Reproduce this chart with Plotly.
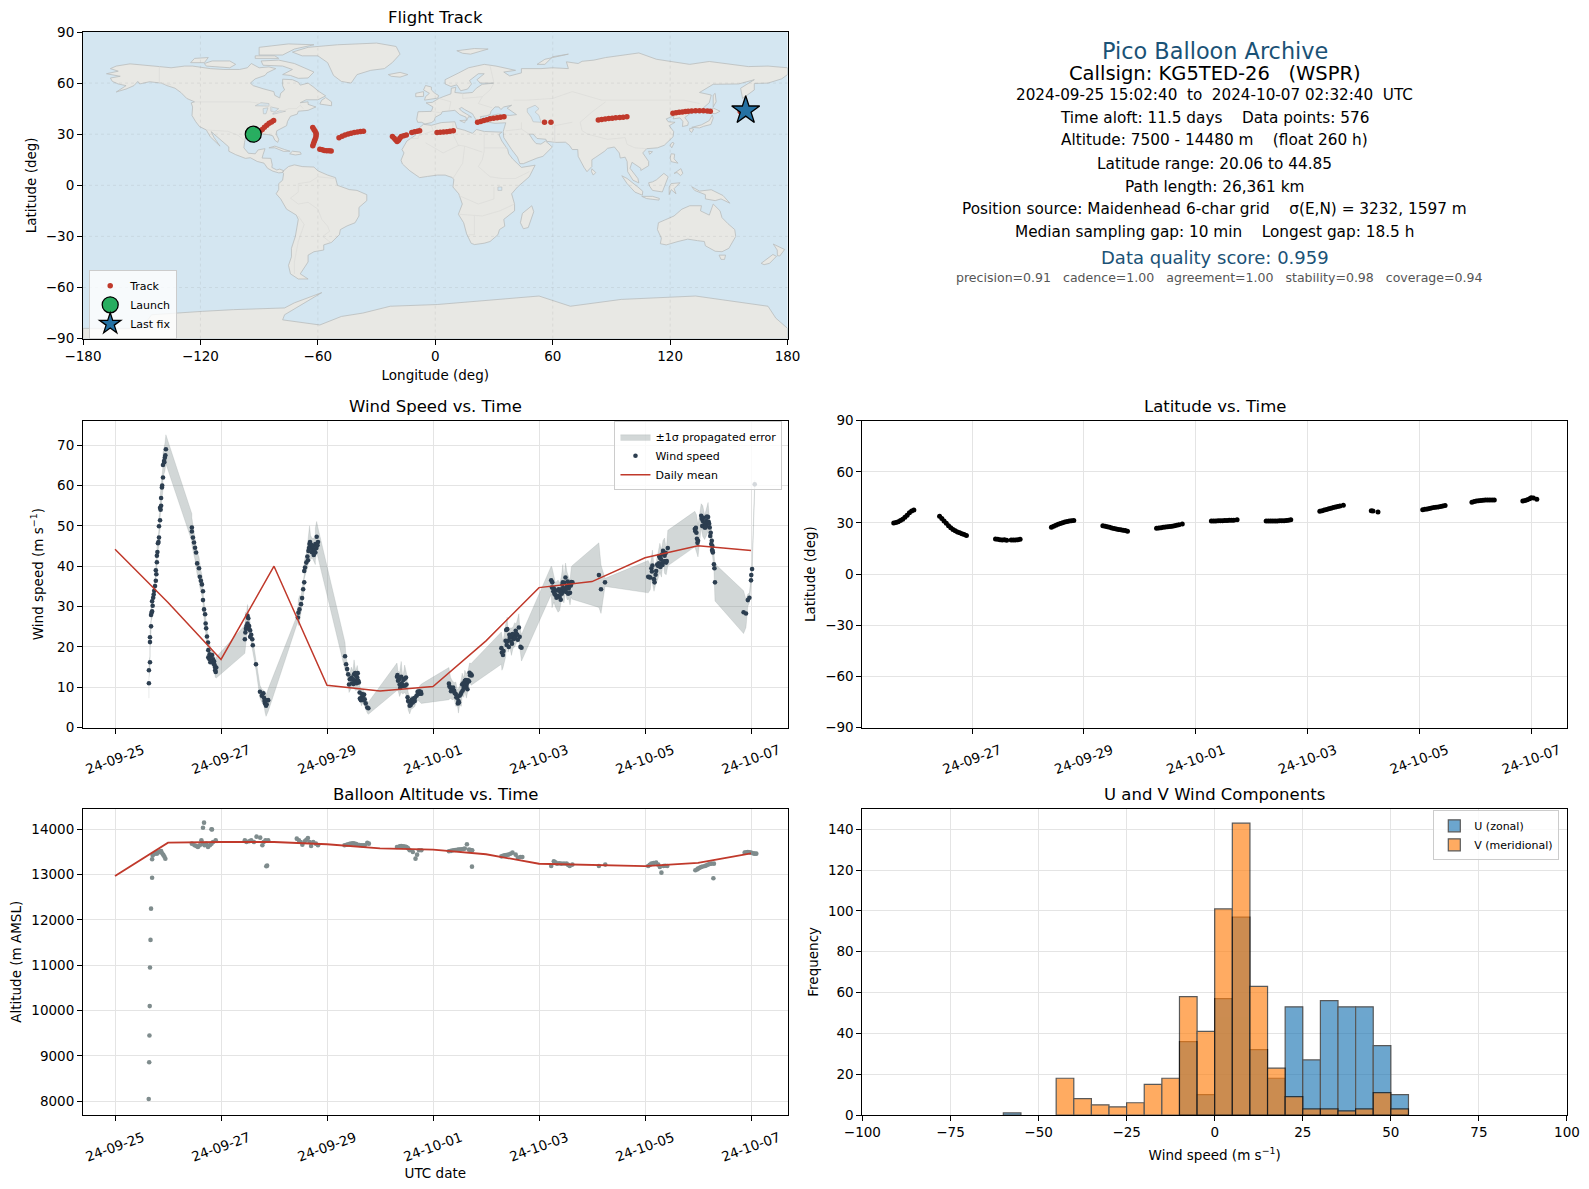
import pandas as pd
import plotly.graph_objects as go

PAGE_W = 1589
PAGE_H = 1189
FONT = 'DejaVu Sans'

# plot area edges on the page
M_L = 83.3
M_R = 22.3
M_T = 31.7
M_B = 74.3
AREA_W = PAGE_W - M_L - M_R
AREA_H = PAGE_H - M_T - M_B

t0 = pd.Timestamp('2024-09-25')

# land outlines, lon/lat pairs
north_america = [(-168,65.5),(-164,66.5),(-162,67),(-166,68.5),(-163,70),(-156,71.3),(-150,70.5),(-141,69.7),(-135,69),(-128,70),(-124,70),(-115,68.5),(-108,68),(-100,68),(-96,69),(-94,71.5),(-90,69),(-85,69.5),(-81.5,68.5),(-86,66),(-87,64.5),(-92,62.5),(-94.5,60),(-93,58.5),(-88,56.7),(-82.5,55),(-82,52.8),(-79.5,51.3),(-79,54),(-77,56),(-78,58.5),(-78,62.3),(-73,62),(-70,60.5),(-69,58.8),(-65,60),(-62,57.5),(-60,55.5),(-56,52.5),(-60,50.2),(-66,50.2),(-69,48.5),(-65,49),(-65,47.5),(-61,46),(-65,44),(-70,43.5),(-70.5,41.8),(-74,40.5),(-75.5,37.5),(-76,35),(-78,33.9),(-81,32),(-81.3,30),(-80,27),(-80.5,25.2),(-82,26.5),(-83,29),(-85,29.7),(-89,30.2),(-90,29.2),(-94,29.6),(-97,28),(-97.5,25),(-97.8,22),(-95.5,18.8),(-92,18.5),(-90.5,20.8),(-87,21.5),(-88,18),(-88.5,16),(-84,15.8),(-83.3,12),(-83.5,10.5),(-81,9),(-79.5,9.5),(-77.5,8.6),(-78,7.5),(-80,7.3),(-83,8.3),(-85.7,10),(-87.5,13),(-91,14),(-94.5,16.2),(-97,15.8),(-102,18),(-105.5,20),(-105.5,22.5),(-109,25.7),(-112,29),(-114.5,31.5),(-113,28),(-110,23),(-112,25),(-115,28.5),(-117,32.5),(-120.5,34.5),(-122.5,37.5),(-124.3,41),(-124,46),(-124.7,48.4),(-123,49),(-127,51),(-130,54.5),(-133,57),(-137,58.5),(-140,60),(-146,60.8),(-151,59.5),(-152,61),(-154,58.5),(-158,56.5),(-163,54.8),(-158,58.5),(-162,59.5),(-165,61),(-166,63),(-161,64),(-168,65.5)]
south_america = [(-77.5,8.6),(-75,11),(-72,12),(-68,11),(-62,10.7),(-60,8.5),(-55,6),(-51,4.5),(-50,0),(-44,-2.5),(-40,-3),(-35,-5.5),(-35,-9),(-39,-13),(-39,-18),(-41,-22),(-45,-23.8),(-48.5,-26),(-49,-29),(-53,-33.5),(-57,-35),(-57,-38),(-62,-39),(-65,-41),(-65,-45),(-68,-50),(-69,-52),(-65,-55),(-70,-55),(-74,-52),(-75,-47),(-73.5,-42),(-73.5,-37),(-71.5,-30),(-70,-20),(-71,-17.5),(-76,-14),(-79,-8),(-81.3,-5),(-80,-2.5),(-80,1),(-78,3),(-77.5,7),(-78,7.5),(-77.5,8.6)]
africa = [(-6,35.8),(-2,35.2),(3,36.8),(10,37.3),(11,33.5),(15,32.3),(19,30.5),(21,32.8),(25,31.6),(31,31.5),(34,31.2),(32.5,29.8),(34,26),(37,21),(37.5,18.5),(39.5,15.5),(43,12),(44,10.5),(51,11.8),(48,5),(42,-1),(39,-5),(40.5,-11),(40.5,-15),(35,-20),(35.5,-24),(32.8,-26),(32,-29),(28,-33),(25,-34),(20,-34.8),(18.3,-34),(16,-28.5),(14.5,-22),(11.8,-17),(13.8,-11),(12,-5),(9,-1),(9.5,3.5),(8.5,4.6),(5,6),(1,6),(-4,5.2),(-8,4.5),(-13,8.5),(-16.8,12.5),(-17.5,14.7),(-16,19),(-17,21),(-14.5,26),(-10,29.5),(-9.5,32.5),(-6,35.8)]
eurasia = [(-9,37),(-9.5,38.8),(-8.8,43.2),(-2,43.4),(-1.2,46),(-4.7,48.4),(-1.5,48.7),(1.5,50.8),(4,52),(8,53.7),(8.2,57),(10.5,57.5),(10,54.5),(14,54),(19,54.5),(21,57),(24,59.3),(30,60),(23,60),(21.3,62),(25,65.5),(22,65.5),(17.5,61.5),(18.5,59.5),(16.5,56.5),(13,55.5),(11,59),(8,58),(5,59.5),(5,62),(12,66),(17,69),(25,71),(31,70),(41,67.5),(35,66.5),(38,64.2),(44,66),(44,68.5),(54,68.5),(60,69),(68,68.5),(67,72.5),(73,71.5),(75,72.8),(81,73.5),(87,75),(104,77.7),(113,74),(130,71),(140,72.7),(160,69.7),(170,70),(180,69),(180,65),(177,62.5),(170,60),(163,59.8),(163,56),(157,51),(156,57),(163,62),(155,59.5),(142,59.3),(135,54.5),(141,53),(140,48.5),(135,43.5),(130.5,42.5),(127.5,39.8),(129.3,37),(129,35.2),(126.3,34.5),(126.5,37.5),(125,39.6),(121.5,39),(122,40.8),(118,39),(119,37.3),(122.5,37),(119.5,35),(121.8,31.5),(121.5,28.5),(117,23.5),(113.5,22),(109,21.5),(108,21.5),(106,19),(109,14),(109,11.5),(105,8.7),(105,10),(100.5,13.5),(99.5,10),(103.5,4),(104,1.4),(101,3),(98.3,8),(98,14),(97,16.5),(94.5,16),(94,19),(91.5,22.5),(88,21.7),(86.5,20),(82,16.5),(80,15),(80,11),(77.5,8),(76,10.5),(73,17),(72.8,21),(70,21),(68.5,23.5),(66.5,25.3),(61.5,25.2),(57,25.8),(56.5,27),(52,27.5),(50,30),(48,30),(50,26.5),(51.5,24.5),(54,24.2),(56.3,26),(59.8,22.5),(55,17),(52,16),(45,12.7),(43.2,12.7),(42,16.5),(39,21),(35,28),(34.7,31.5),(35.8,35),(36,36.7),(30.5,36.4),(27.3,37),(26.3,39.5),(29,41),(32,41.8),(38,41),(41.5,41.5),(38,44.5),(36.7,45.3),(39,47),(35,46),(33.5,44.5),(32.5,46),(30.5,46),(28.5,43.5),(28,41.5),(26,40.8),(23,40.3),(24,38),(23,36.5),(21.5,37),(19.5,41),(19,42),(15,44.5),(13.5,45.7),(12.3,45),(13.5,43.5),(16,41.8),(18.5,40),(17,40.3),(16,38),(15.7,40),(12.5,41.5),(10,44),(7,43.7),(3.5,43.2),(3,41.8),(0,40),(-0.5,38),(-2,36.8),(-5.3,36),(-7,37),(-9,37)]
australia = [(114,-22),(122,-18),(126,-14),(130,-12),(136,-12),(135.5,-15),(140,-17.5),(142,-11),(145.5,-15),(146.5,-19),(149.5,-22.5),(153,-26),(153.5,-30),(150,-37),(146.5,-39),(143,-38.7),(138,-35.5),(137.5,-33),(134,-32.5),(129,-31.6),(124,-33),(118,-35),(115,-34.3),(115.5,-31),(113.5,-26),(114,-22)]
antarctica = [(-180,-90),(-180,-84),(-150,-84),(-145,-76),(-119,-74),(-103,-73),(-77,-72),(-72,-69),(-58,-63),(-67,-69),(-77,-76),(-78,-79),(-59,-82),(-48,-77),(-37,-75),(-23,-71),(1,-70),(53,-65),(69,-71),(95,-67),(133,-65),(170,-71),(174,-78),(180,-84),(180,-90),(-180,-90)]
islands = [
    [(-73,78.2),(-65,81),(-50,82.5),(-30,83.5),(-20,81.5),(-18,77),(-22,72),(-26,68.5),(-33,67.5),(-40,65),(-43,60),(-48,61),(-52,64.5),(-54,69),(-55,72),(-60,76),(-68,76),(-73,78.2)],
    [(-80,73.5),(-72,71.5),(-67,69),(-62,66.5),(-65,63),(-70,62.8),(-74,64.5),(-78,65),(-73,68),(-78,70),(-88,70.5),(-89,73),(-80,73.5)],
    [(-117,70),(-105,69),(-102,71),(-105,73),(-114,73),(-118,71.5),(-117,70)],
    [(-125,72),(-118,72),(-116,75),(-123,74.5),(-125,72)],
    [(-90,76.5),(-78,76.5),(-72,80),(-62,82.5),(-75,83),(-90,81),(-90,76.5)],
    [(-92,74.5),(-80,74.5),(-82,76),(-92,76),(-92,74.5)],
    [(-59,47.7),(-53,46.7),(-53,49),(-56,51.5),(-58,50),(-59,47.7)],
    [(-85,22),(-82,23),(-77,21),(-74.2,20),(-77.5,19.9),(-82,22),(-85,22)],
    [(-74.4,18.5),(-73,20),(-69,19.5),(-68.5,18.3),(-71.5,17.8),(-74.4,18.5)],
    [(-5.5,50),(1.3,51.2),(1.7,52.7),(-0.2,54),(-2,56),(-2,57.7),(-5,58.6),(-6,56),(-3,54),(-5,52),(-5.5,50)],
    [(-10,52),(-6,52.2),(-6,55),(-10,54),(-10,52)],
    [(-24,65),(-18,66.3),(-14,65),(-18,63.5),(-22.5,64),(-24,65)],
    [(11,79),(20,80.3),(27,80),(18,77),(14,77.5),(11,79)],
    [(52,71),(56,74),(68,77),(60,75.5),(56,71),(52,71)],
    [(12.5,38),(15.5,38.2),(15,36.7),(12.5,38)],
    [(49.3,-12),(50.3,-15.5),(47.5,-24.8),(45,-25.5),(43.5,-22),(44.5,-16.5),(49.3,-12)],
    [(80,9.7),(82,7.5),(80.7,6),(79.8,8),(80,9.7)],
    [(131,34),(136,35.5),(140,38),(141.5,41.3),(142,39.5),(140.8,35.7),(137,34.6),(135,33.7),(131,34)],
    [(130,33.5),(132,33),(131,31),(130,32),(130,33.5)],
    [(140,42.5),(141.8,45.5),(145.5,43.5),(143,42),(140,42.5)],
    [(142,46),(143.5,49),(143,54),(142,53),(142,48),(142,46)],
    [(121,25.2),(122,24.8),(120.8,22),(120,23.5),(121,25.2)],
    [(109,20),(111,19.7),(109.5,18.2),(109,20)],
    [(120.5,18.5),(122.3,18.3),(122,15.5),(124,13),(120.5,13.9),(120,16),(120.5,18.5)],
    [(122,7),(125.5,9.8),(126.5,7),(125.3,5.7),(123.5,7.5),(122,7)],
    [(109,1.5),(111,2),(113,3.2),(116.8,7),(119,5),(117.8,1),(116,-3.9),(111,-3),(109.5,-0.5),(109,1.5)],
    [(95.3,5.6),(98,4),(103.5,-1),(106,-3.5),(105.8,-5.8),(102,-4),(98,1),(95.3,5.6)],
    [(105.5,-6.5),(111,-6.5),(114.5,-7.7),(114.3,-8.7),(108,-7.8),(105.5,-6.5)],
    [(119.5,-5.5),(120.5,-2.5),(123,-5),(122,-2),(125,1.5),(120.5,1),(119.5,-1),(119.5,-5.5)],
    [(131,-0.8),(135,-3.4),(141,-2.6),(147,-6),(150.5,-10.5),(146,-8),(143,-9),(138,-8),(138,-5.5),(132.5,-3),(131,-0.8)],
    [(145,-41),(148.3,-41),(147.8,-43.5),(146,-43.5),(145,-41)],
    [(172.7,-34.5),(178.5,-37.7),(176,-41.5),(174.8,-41.3),(174.7,-38),(172.7,-34.5)],
    [(172.5,-40.6),(174.3,-41.7),(170.8,-45.8),(168,-46.6),(166.5,-45.8),(170.5,-42.5),(172.5,-40.6)],
]
inland_water = [
    [(47,45),(51,47),(53,45),(51,43),(53,41),(54,37),(50,37.3),(49,40),(47,43),(47,45)],
    [(-92,46.7),(-85,46.5),(-85,48),(-89,48.5),(-92,46.7)],
    [(-87.8,42),(-86.5,42),(-85.5,45.5),(-88,45),(-87.8,42)],
    [(-84,43.5),(-82,43.2),(-80,45),(-84,46),(-84,43.5)],
    [(-83,41.7),(-79,42.8),(-76.5,43.5),(-79.5,43.7),(-83,42.2),(-83,41.7)],
    [(32,-1),(34,-1),(34,-3),(32,-3),(32,-1)],
]
borders = [
    [(-123,49),(-95,49),(-89,48),(-84,46.5),(-82.5,42.5),(-79,43),(-75,45),(-71,45),(-69,47),(-67.5,45)],
    [(-141,69.7),(-141,60),(-135,59)],
    [(-117,32.5),(-108,31.5),(-106,31.7),(-101,29.5),(-97.2,26)],
    [(-51.5,4),(-60,5),(-64,2),(-70,1),(-70,-4),(-74,-7.5),(-70,-11),(-65,-10),(-60,-14),(-58,-20),(-55,-24),(-54,-27),(-57.5,-30),(-53.5,-33.5)],
    [(-70,-18),(-67,-23),(-70,-33),(-72,-45),(-72,-52)],
    [(-13,27.5),(-8.7,27.5),(-8.7,29),(-1,32),(-2,35)],
    [(9,37),(9,30),(12,23)],
    [(25,31.5),(25,20),(24,15)],
    [(25,22),(37,22)],
    [(-5,25),(4,19),(12,23.5),(15,23),(24,19.5)],
    [(15,23),(14,13),(9,4)],
    [(24,15),(22,11),(28,5),(34,4),(41,4),(48,8)],
    [(30,-1),(30,-8),(22,-11),(12,-6)],
    [(12,-17),(24,-18),(33,-15),(40.5,-11)],
    [(20,-18),(20,-29),(17,-29)],
    [(28,70),(30,60),(28,56),(24,52),(14,51),(14,54)],
    [(2,51),(8,49),(7,44)],
    [(-2,43.4),(3,42.5)],
    [(24,52),(22,48),(29,45.5)],
    [(40,50),(47,50),(60,51),(70,55),(85,50),(98,50),(107,50),(117,50),(127,50),(135,48)],
    [(87,49),(80,43),(74,37),(75,32),(78,30),(88,27),(97,28),(98,24),(102,22),(108,21.5)],
    [(61,36),(61,25)],
    [(44,37),(44,33),(48,30)],
    [(44,33),(36,32)],
    [(70,37),(61,35)],
]

# flight track
track_lon = [-89.6,-88.4,-87.3,-86.1,-84.9,-83.7,-82.6,
             -62.6,-62.0,-61.4,-60.9,-60.9,-61.0,-61.4,-61.8,-62.2,-62.6,
             -59.0,-57.8,-56.7,-55.5,-54.3,-53.2,
             -49.2,-47.6,-46.1,-44.5,-43.0,-41.4,-39.8,-38.2,-36.7,
             -21.9,-21.0,-20.2,-19.5,-18.8,-18.1,-17.4,-16.1,-14.8,
             -12.0,-10.6,-9.2,-8.0,
             0.9,2.5,4.2,5.9,7.5,9.2,
             21.6,23.2,24.8,26.4,28.0,29.8,31.6,33.3,35.1,
             55.8,59.1,
             83.3,85.0,86.8,88.6,90.4,92.2,94.2,96.0,97.9,
             121.4,123.0,124.6,126.2,127.8,129.2,131.0,133.0,135.0,137.0,139.0,140.5,
             155.8]
track_lat = [31.6,32.8,34.1,35.3,36.4,37.2,38.0,
             33.9,32.8,31.8,30.6,29.6,28.4,27.1,25.8,24.5,23.2,
             21.2,20.8,20.4,20.3,20.3,20.2,
             27.9,28.8,29.6,30.1,30.6,31.0,31.3,31.6,31.8,
             28.6,27.6,26.6,25.7,26.5,27.6,28.6,29.1,29.6,
             31.0,31.4,31.8,32.0,
             31.0,31.1,31.3,31.5,31.7,32.0,
             37.0,37.5,38.0,38.5,39.0,39.3,39.6,39.9,40.2,
             37.0,37.0,
             38.4,38.7,38.9,39.2,39.4,39.6,39.8,40.0,40.2,
             42.3,42.6,42.9,43.1,43.3,43.5,43.6,43.7,43.8,43.8,43.6,43.5,
             43.3]
launch_lon = [-93.0]
launch_lat = [30.0]
last_lon = [158.6]
last_lat = [43.9]

# wind speed, days after 2024-09-25 00:00
wind_day = [0.64,0.64,0.66,0.66,0.66,0.68,0.68,0.70,0.70,0.72,0.74,0.755,0.77,0.77,0.79,0.79,0.81,0.83,0.83,0.85,0.85,0.87,0.885,0.905,0.905,0.925,0.94,0.96,
            1.45,1.45,1.47,1.49,1.51,1.53,1.55,1.585,1.60,1.62,1.64,1.66,1.66,1.68,1.70,1.71,1.72,1.735,1.755,1.76,1.76,1.785,1.82,1.85,1.87,1.89,1.89,1.91,
            2.45,2.46,2.48,2.50,2.515,2.53,2.55,2.57,2.59,2.60,2.66,2.735,2.77,2.81,2.83,2.85,2.89,
            3.45,3.46,3.48,3.51,3.53,3.55,3.57,3.57,3.585,3.61,3.63,3.65,3.67,3.69,3.72,3.76,3.78,3.78,3.805,3.83,
            4.34,4.36,4.38,4.40,4.415,4.46,4.49,4.51,4.54,4.57,4.60,4.615,4.65,4.68,4.71,4.73,4.76,4.78,
            5.32,5.34,5.37,5.40,5.43,5.465,5.50,5.53,5.56,5.59,5.62,5.655,5.69,5.72,5.75,5.78,
            6.30,6.33,6.36,6.40,6.43,6.46,6.48,6.50,6.535,6.55,6.58,6.60,6.63,6.66,6.69,6.72,
            7.29,7.30,7.32,7.37,7.40,7.415,7.45,7.48,7.51,7.54,7.57,7.62,7.635,7.67,
            8.23,8.245,8.28,8.31,8.36,8.39,8.42,8.45,8.47,8.50,8.53,8.56,8.585,8.61,8.63,
            9.13,9.17,9.245,
            10.06,10.10,10.12,10.14,10.17,10.20,10.245,10.28,10.31,10.34,10.37,10.40,10.43,
            10.94,10.97,11.0,11.06,11.09,11.125,11.16,11.19,11.22,11.24,11.26,11.27,11.28,11.30,11.31,11.32,
            11.86,11.905,11.94,11.97,12.0,12.005,12.02,12.07]
wind_ms = [11.0,14.2,16.2,21.2,22.4,25.1,27.9,28.8,31.3,32.2,33.9,35.1,36.4,39.0,41.0,42.6,45.7,47.1,49.9,51.4,54.5,56.9,59.5,62.0,65.1,66.1,66.9,69.0,
           49.6,48.6,47.1,45.9,44.6,43.4,40.7,39.5,37.4,36.4,35.5,33.8,31.6,29.3,28.1,25.8,24.6,22.6,21.1,19.2,17.4,18.2,17.8,16.9,16.4,14.9,14.2,14.9,
           21.9,23.6,25.2,27.7,27.1,25.2,24.1,23.0,21.9,20.4,15.7,8.9,7.9,7.4,6.0,5.4,6.8,
           27.3,28.5,29.3,30.6,32.1,34.3,36.0,38.8,39.7,40.9,42.4,43.8,45.5,44.6,44.5,44.0,43.4,45.5,47.3,46.0,
           17.7,15.7,14.5,13.2,10.7,12.4,12.0,13.2,11.6,12.4,11.2,8.7,7.4,7.9,7.0,6.0,5.0,4.8,
           12.6,11.6,10.7,12.6,10.3,12.1,10.7,6.6,5.4,6.2,6.2,6.6,7.9,8.3,8.4,8.4,
           10.9,9.9,9.3,9.1,8.3,7.4,6.6,7.9,8.7,10.7,9.9,11.6,10.3,11.7,13.6,13.2,
           19.7,18.6,18.0,21.5,24.4,21.5,22.3,21.3,22.3,23.0,23.3,24.8,22.5,19.8,
           36.5,34.7,34.5,32.9,32.6,32.4,34.3,36.0,33.9,37.2,35.1,34.5,33.4,36.1,36.0,
           37.8,34.3,36.0,
           37.4,37.2,39.5,40.2,36.8,37.9,40.1,42.1,40.7,43.8,42.6,40.9,44.5,
           49.2,48.3,46.3,52.5,51.2,49.6,51.2,52.2,49.6,48.3,46.3,45.0,43.4,40.5,39.5,36.0,
           28.6,28.3,31.6,32.2,36.5,37.8,39.3,60.3]
wind_sigma = [3.7,2.0,1.5,1.5,1.5,1.5,1.5,1.6,1.6,1.7,1.8,1.8,1.9,1.9,2.0,2.0,2.2,2.2,2.4,2.4,2.6,2.8,2.8,3.0,3.0,3.2,3.4,3.6,
              3.4,3.4,3.2,3.2,3.0,3.0,2.8,2.8,2.6,2.6,2.4,2.4,2.2,2.2,2.0,2.0,1.9,1.8,1.8,1.8,1.6,2.4,1.6,2.2,1.6,2.4,1.8,2.6,
              3.5,5.0,3.0,2.8,1.8,2.4,1.6,1.5,1.5,1.5,1.4,1.6,1.6,1.8,2.2,2.6,2.8,
              1.0,3.2,3.4,2.0,2.2,2.0,2.0,2.0,2.4,2.0,3.0,2.6,4.5,3.0,2.4,3.0,3.0,4.0,3.8,3.5,
              3.4,1.8,1.6,1.6,2.0,2.6,2.0,3.6,2.4,3.0,1.8,1.6,2.0,1.6,1.6,1.4,1.4,1.5,
              3.4,2.4,3.0,3.8,2.0,3.4,2.8,2.2,2.0,1.6,1.4,1.4,1.5,1.6,2.0,2.4,
              4.0,2.6,2.4,2.0,3.0,2.0,3.0,2.4,3.4,2.8,2.4,2.6,3.0,2.4,2.4,2.7,
              4.0,4.4,3.2,4.0,3.0,2.8,2.4,3.4,2.6,3.0,2.4,3.4,2.6,3.3,
              3.5,5.0,3.4,3.0,4.0,3.4,3.0,4.4,3.0,3.6,3.4,2.6,3.0,3.8,4.2,
              8.0,6.0,1.0,
              4.0,3.0,2.6,3.8,3.0,2.4,3.2,3.6,3.4,2.6,4.4,3.0,4.4,
              4.4,4.5,4.0,3.0,3.8,3.0,3.6,3.6,2.0,2.2,2.0,1.8,1.6,1.6,2.4,4.6,
              5.3,3.5,1.5,1.2,1.2,1.2,1.2,1.0]

# more fixes inside the dense clusters, points only
cluster_day = [0.69,0.71,0.73,0.78,0.80,0.82,0.86,0.87,0.89,0.93,0.95,
               1.78,1.80,1.83,1.86,1.88,1.90,
               2.47,2.50,2.52,2.55,2.80,2.82,2.84,2.86,
               3.64,3.66,3.68,3.70,3.71,3.74,3.75,3.80,3.82,
               4.43,4.47,4.50,4.52,4.53,4.55,4.56,4.58,4.59,4.62,4.64,4.66,4.69,4.70,
               5.33,5.36,5.38,5.41,5.44,5.47,5.49,5.52,5.55,5.58,5.60,5.63,5.66,5.71,5.74,5.77,
               6.31,6.34,6.38,6.41,6.44,6.47,6.49,6.52,6.56,6.57,6.59,6.61,6.62,6.64,6.65,6.68,6.70,6.73,
               7.33,7.38,7.39,7.43,7.44,7.47,7.49,7.50,7.53,7.55,7.56,7.59,7.60,7.65,
               8.25,8.27,8.29,8.33,8.34,8.37,8.40,8.41,8.43,8.44,8.46,8.48,8.49,8.51,8.52,8.54,8.55,8.57,8.60,
               10.08,10.13,10.18,10.21,10.23,10.26,10.27,10.29,10.30,10.32,10.33,10.35,10.36,10.38,10.39,10.41,
               10.95,10.96,10.98,10.99,11.07,11.08,11.10,11.11,11.13,11.14,11.15,11.17,11.18,11.20,11.21,11.23,11.25,11.265,11.275]
cluster_ms = [28.5,30.2,33.0,38.0,43.5,46.0,54.0,55.0,60.0,65.8,67.5,
              17.0,16.2,18.0,15.8,15.5,13.8,
              24.5,25.8,24.5,22.5,8.5,6.6,6.8,5.8,
              41.5,44.5,46.0,45.3,43.5,45.0,42.8,44.5,45.2,
              12.0,11.0,10.8,11.3,13.5,12.8,11.0,13.5,11.6,7.2,6.8,8.3,6.8,8.2,
              13.0,12.0,9.8,11.0,11.8,10.4,12.4,7.5,6.4,5.6,6.9,7.2,7.4,8.9,9.0,8.9,
              10.2,9.0,9.9,8.5,7.5,6.0,6.2,8.2,9.2,11.0,11.0,10.0,11.8,11.0,9.5,11.5,13.0,12.9,
              19.0,24.2,20.5,20.0,23.0,22.5,20.8,23.2,22.0,22.3,24.0,23.0,21.8,20.0,
              36.0,33.8,33.2,32.2,34.0,34.3,33.6,31.7,33.2,35.4,34.6,35.9,34.0,33.6,34.6,36.2,33.2,35.7,35.2,
              37.3,38.7,36.0,38.8,40.4,40.7,42.5,39.8,41.8,42.9,40.3,41.0,41.2,41.2,43.3,41.3,
              48.7,49.5,46.8,45.8,51.8,50.0,50.0,52.0,50.5,49.6,50.0,52.3,50.7,51.0,50.5,47.5,45.5,44.0,43.8]

mean_day = [0,1,2,3,4,5,6,7,8,9,10,11,12]
wind_mean = [44.2,31.0,16.9,40.0,10.5,9.1,10.2,21.5,34.7,36.2,42.1,45.1,43.9]
alt_mean = [12970,13705,13720,13720,13670,13580,13550,13450,13240,13210,13190,13260,13470]

# latitude
lat_day = [0.60,0.64,0.68,0.72,0.76,0.80,0.84,0.88,0.92,0.96,
           1.42,1.46,1.50,1.54,1.58,1.62,1.66,1.70,1.74,1.78,1.82,1.86,1.90,
           2.42,2.46,2.50,2.54,2.58,2.62,2.70,2.74,2.78,2.82,2.86,
           3.42,3.46,3.50,3.54,3.58,3.62,3.66,3.70,3.74,3.78,3.82,
           4.34,4.38,4.42,4.46,4.50,4.54,4.58,4.62,4.66,4.70,4.74,4.78,
           5.30,5.34,5.38,5.42,5.46,5.50,5.54,5.58,5.62,5.66,5.70,5.76,
           6.28,6.32,6.36,6.40,6.44,6.48,6.52,6.56,6.60,6.64,6.68,6.74,
           7.26,7.30,7.34,7.38,7.42,7.46,7.50,7.54,7.58,7.62,7.66,7.70,
           8.22,8.26,8.30,8.34,8.38,8.42,8.46,8.50,8.54,8.58,8.64,
           9.14,9.17,9.26,
           10.06,10.10,10.14,10.18,10.22,10.26,10.30,10.34,10.38,10.42,10.46,
           10.94,10.98,11.02,11.06,11.10,11.14,11.18,11.22,11.26,11.30,11.34,
           11.85,11.89,11.93,11.97,12.00,12.04,12.10]
lat_deg = [30.0,30.2,30.7,31.4,32.2,33.3,34.5,36.0,37.0,37.6,
           33.9,32.6,31.2,29.8,28.3,27.2,26.2,25.4,24.7,24.2,23.7,23.2,22.7,
           20.6,20.5,20.2,20.0,20.1,19.9,20.0,20.0,20.0,20.1,20.4,
           27.5,28.1,28.7,29.2,29.7,30.1,30.5,30.8,31.1,31.3,31.4,
           28.4,28.0,27.7,27.4,27.1,26.8,26.5,26.2,26.0,25.7,25.5,25.1,
           26.9,27.0,27.2,27.4,27.6,27.7,27.9,28.1,28.4,28.7,29.0,29.4,
           31.2,31.2,31.2,31.3,31.3,31.3,31.4,31.4,31.5,31.5,31.6,31.8,
           31.2,31.2,31.2,31.2,31.2,31.2,31.3,31.3,31.3,31.4,31.6,31.8,
           36.8,37.2,37.6,37.9,38.3,38.6,39.0,39.3,39.7,40.0,40.4,
           37.2,37.0,36.4,
           37.8,38.0,38.2,38.5,38.8,39.0,39.2,39.4,39.7,40.0,40.2,
           42.1,42.5,42.8,43.0,43.2,43.3,43.4,43.4,43.5,43.5,43.5,
           42.9,43.2,43.6,44.2,44.8,44.6,43.9]

# altitude
alt_day = [0.636,0.645,0.65,0.655,0.66,0.67,0.68,0.70,0.70,
           0.71,0.73,0.75,0.77,0.79,0.81,0.83,0.85,0.87,0.89,0.91,0.93,0.95,
           1.68,1.66,1.82,1.83,1.45,1.50,1.535,1.565,1.60,1.63,1.66,1.69,1.72,1.755,1.79,1.82,1.85,1.90,
           2.45,2.48,2.53,2.57,2.62,2.67,2.74,2.78,2.805,2.84,2.89,2.855,2.87,
           3.43,3.47,3.50,3.535,3.58,3.61,3.64,3.67,3.70,3.74,3.79,3.83,
           4.33,4.37,4.40,4.43,4.46,4.49,4.52,4.55,4.58,4.61,4.65,4.68,4.71,4.76,4.79,
           5.32,5.37,5.40,5.435,5.47,5.50,5.53,5.56,5.62,5.67,5.70,5.735,5.78,
           6.30,6.34,6.38,6.42,6.47,6.50,6.53,6.57,6.60,6.64,6.68,6.71,6.74,6.735,
           7.29,7.32,7.35,7.38,7.42,7.46,7.50,7.56,7.60,7.65,7.685,
           8.23,8.28,8.31,8.34,8.38,8.42,8.47,8.52,8.55,8.58,8.63,
           9.13,9.25,
           10.06,10.09,10.12,10.16,10.21,10.25,10.28,10.31,10.35,10.38,10.42,
           10.95,10.98,11.0,11.03,11.06,11.09,11.13,11.16,11.19,11.22,11.25,11.30,11.29,
           11.88,11.91,11.94,11.97,12.0,12.04,12.07,12.10]
alt_m = [8050,8860,9450,10100,10950,11560,12250,12930,13340,
         13420,13450,13470,13480,13460,13490,13500,13510,13520,13470,13440,13400,13350,
         14147,14036,14000,13995,13684,13650,13630,13610,13647,13757,13684,13650,13684,13610,13650,13684,13720,13757,
         13757,13720,13735,13757,13720,13838,13816,13650,13720,13757,13757,13184,13198,
         13794,13757,13720,13660,13735,13770,13809,13720,13632,13720,13684,13650,
         13650,13660,13670,13680,13684,13690,13684,13675,13660,13655,13650,13650,13650,13700,13684,
         13610,13625,13630,13625,13620,13610,13580,13537,13500,13353,13441,13537,13537,
         13515,13525,13537,13545,13551,13555,13559,13565,13574,13669,13551,13545,13537,13176,
         13404,13415,13426,13430,13441,13460,13485,13441,13375,13390,13390,
         13191,13294,13270,13243,13250,13243,13245,13243,13215,13191,13221,
         13191,13221,
         13191,13215,13243,13255,13265,13220,13169,13044,13191,13195,13191,
         13096,13115,13132,13150,13169,13180,13191,13205,13221,13235,13243,13243,12919,
         13485,13495,13500,13495,13485,13470,13463,13463]

# histogram counts, 5 m/s bins
u_left = [-60,-10,-5,0,5,10,15,20,25,30,35,40,45,50]
u_count = [1,36,10,57,97,32,18,53,27,56,53,53,34,10]
v_left = [-45,-40,-35,-30,-25,-20,-15,-10,-5,0,5,10,15,20,25,30,35,40,45,50]
v_count = [18,8,5,4,6,15,18,58,41,101,143,63,23,9,3,3,2,3,11,3]

date_ticks = [0,2,4,6,8,10,12]
date_labels = ['24-09-25','24-09-27','24-09-29','24-10-01','24-10-03','24-10-05','24-10-07']
lon_ticks = [-180,-120,-60,0,60,120,180]
lat_ticks = [-90,-60,-30,0,30,60,90]

info_lines = [
    ('Pico Balloon Archive', 22.4, '#1a5276', 50.7, 0),
    ('Callsign: KG5TED-26   (WSPR)', 19.5, '#000000', 73, 0),
    ('2024-09-25 15:02:40  to  2024-10-07 02:32:40  UTC', 15.2, '#000000', 94.2, 0),
    ('Time aloft: 11.5 days    Data points: 576', 15.3, '#000000', 117.6, 0),
    ('Altitude: 7500 - 14480 m    (float 260 h)', 15.3, '#000000', 139.9, 0),
    ('Latitude range: 20.06 to 44.85', 15.3, '#000000', 163.2, 0),
    ('Path length: 26,361 km', 15.3, '#000000', 186.5, 0),
    ('Position source: Maidenhead 6-char grid    σ(E,N) = 3232, 1597 m', 15.3, '#000000', 208.8, 0),
    ('Median sampling gap: 10 min    Longest gap: 18.5 h', 15.3, '#000000', 232.1, 0),
    ('Data quality score: 0.959', 18, '#1a5276', 257.4, 0),
    ('precision=0.91   cadence=1.00   agreement=1.00   stability=0.98   coverage=0.94', 12.55, '#555555', 276.7, 5),
]


def dates(days):
    return t0 + pd.to_timedelta(list(days), unit='D')


def polys(shapes):
    xs, ys = [], []
    for shape in shapes:
        xs += [p[0] for p in shape] + [None]
        ys += [p[1] for p in shape] + [None]
    return xs, ys


def px_x(px):
    return (px - M_L) / AREA_W


def px_y(px):
    return 1 - (px - M_T) / AREA_H


COL1 = [px_x(83.3), px_x(787.6)]
COL2 = [px_x(862.4), px_x(1566.7)]
ROW1 = [px_y(338.3), px_y(31.7)]
ROW2 = [px_y(727.3), px_y(420.3)]
ROW3 = [px_y(1114.7), px_y(808.3)]

GRID = '#e4e4e4'

axis_style = dict(
    automargin=False,
    showline=True,
    mirror=True,
    linecolor='black',
    linewidth=1,
    ticks='outside',
    ticklen=5,
    tickwidth=1,
    tickcolor='black',
    tickfont=dict(family=FONT, size=13.5, color='black'),
    showgrid=True,
    gridcolor=GRID,
    gridwidth=1,
    zeroline=False,
    title_font=dict(family=FONT, size=13.5, color='black'),
)


def date_axis(days_range, domain, anchor, title=None, ticks=date_ticks, labels=date_labels):
    d = dict(axis_style)
    d.update(
        domain=domain,
        anchor=anchor,
        type='date',
        range=[t0 + pd.Timedelta(days=days_range[0]), t0 + pd.Timedelta(days=days_range[1])],
        tickvals=list(dates(ticks)),
        ticktext=labels,
        tickangle=-20,
        ticklabelshift=28,
        ticklabelstandoff=4,
    )
    if title:
        d['title'] = dict(text=title, standoff=3)
    return d


def value_axis(domain, anchor, rng, title=None, standoff=6, **kw):
    d = dict(axis_style)
    d.update(domain=domain, anchor=anchor, range=rng)
    if title:
        d['title'] = dict(text=title, standoff=standoff)
    d.update(kw)
    return d


fig = go.Figure()

# map
land_x, land_y = polys([north_america, south_america, africa, eurasia, australia, antarctica] + islands)
fig.add_trace(go.Scatter(
    x=land_x, y=land_y, mode='lines', fill='toself', fillcolor='#e8e8e4',
    line=dict(color='#b9bcbc', width=0.8), showlegend=False, hoverinfo='skip', xaxis='x', yaxis='y'))
water_x, water_y = polys(inland_water)
fig.add_trace(go.Scatter(
    x=water_x, y=water_y, mode='lines', fill='toself', fillcolor='#d4e6f1',
    line=dict(color='#b9bcbc', width=0.6), showlegend=False, hoverinfo='skip', xaxis='x', yaxis='y'))
border_x, border_y = polys(borders)
fig.add_trace(go.Scatter(
    x=border_x, y=border_y, mode='lines', line=dict(color='#dbdbd8', width=0.7),
    showlegend=False, hoverinfo='skip', xaxis='x', yaxis='y'))
fig.add_trace(go.Scatter(
    x=track_lon, y=track_lat, mode='markers', name='Track',
    marker=dict(color='#c0392b', size=5.5), xaxis='x', yaxis='y', legend='legend'))
fig.add_trace(go.Scatter(
    x=launch_lon, y=launch_lat, mode='markers', name='Launch',
    marker=dict(color='#27ae60', size=16, line=dict(color='black', width=1.3)),
    xaxis='x', yaxis='y', legend='legend'))
fig.add_trace(go.Scatter(
    x=last_lon, y=last_lat, mode='markers', name='Last fix',
    marker=dict(color='#2471a3', size=21, symbol='star', line=dict(color='black', width=1.3)),
    xaxis='x', yaxis='y', legend='legend'))

# wind speed
upper = [w + s for w, s in zip(wind_ms, wind_sigma)]
lower = [w - s for w, s in zip(wind_ms, wind_sigma)]
wind_time = list(dates(wind_day))
fig.add_trace(go.Scatter(
    x=wind_time + wind_time[::-1], y=upper + lower[::-1], mode='lines', fill='toself',
    fillcolor='rgba(127,140,141,0.35)', line=dict(color='rgba(127,140,141,0.35)', width=0.5),
    name='±1σ propagated error', xaxis='x2', yaxis='y2', legend='legend2'))
fig.add_trace(go.Scatter(
    x=wind_time + list(dates(cluster_day)), y=wind_ms + cluster_ms, mode='markers', name='Wind speed',
    marker=dict(color='#2c3e50', size=4.6), xaxis='x2', yaxis='y2', legend='legend2'))
fig.add_trace(go.Scatter(
    x=dates(mean_day), y=wind_mean, mode='lines', name='Daily mean',
    line=dict(color='#c0392b', width=1.5), xaxis='x2', yaxis='y2', legend='legend2'))

# latitude
fig.add_trace(go.Scatter(
    x=dates(lat_day), y=lat_deg, mode='markers', marker=dict(color='black', size=5),
    showlegend=False, xaxis='x3', yaxis='y3'))

# altitude
fig.add_trace(go.Scatter(
    x=dates(alt_day), y=alt_m, mode='markers', marker=dict(color='#7f8c8d', size=4.6),
    showlegend=False, xaxis='x4', yaxis='y4'))
fig.add_trace(go.Scatter(
    x=dates(mean_day), y=alt_mean, mode='lines', line=dict(color='#c0392b', width=1.8),
    showlegend=False, xaxis='x4', yaxis='y4'))

# histogram
fig.add_trace(go.Bar(
    x=u_left, y=u_count, width=5, offset=0, name='U (zonal)', opacity=0.65,
    marker=dict(color='#1f77b4', line=dict(color='black', width=1.2)),
    xaxis='x5', yaxis='y5', legend='legend3'))
fig.add_trace(go.Bar(
    x=v_left, y=v_count, width=5, offset=0, name='V (meridional)', opacity=0.65,
    marker=dict(color='#ff7f0e', line=dict(color='black', width=1.2)),
    xaxis='x5', yaxis='y5', legend='legend3'))

map_x = value_axis(COL1, 'y', [-180, 180], 'Longitude (deg)', standoff=7, tickvals=lon_ticks, showgrid=False)
map_y = value_axis(ROW1, 'x', [-90, 90], 'Latitude (deg)', tickvals=lat_ticks, showgrid=False)

legend_box = dict(
    bgcolor='rgba(255,255,255,0.8)',
    bordercolor='#cccccc',
    borderwidth=1,
    font=dict(family=FONT, size=11, color='black'),
    tracegroupgap=0,
    itemsizing='trace',
)

annotations = []
for label, col, top in [
    ('Flight Track', COL1, 31.7),
    ('Wind Speed vs. Time', COL1, 420.3),
    ('Latitude vs. Time', COL2, 420.3),
    ('Balloon Altitude vs. Time', COL1, 808.3),
    ('U and V Wind Components', COL2, 808.3),
]:
    annotations.append(dict(
        text=label, x=sum(col) / 2, y=px_y(top - 2.5), xref='paper', yref='paper',
        xanchor='center', yanchor='bottom', showarrow=False,
        font=dict(family=FONT, size=16.5, color='black')))
for label, size, color, ypx, shift in info_lines:
    annotations.append(dict(
        text=label, x=sum(COL2) / 2, y=px_y(ypx), xref='paper', yref='paper',
        xanchor='center', yanchor='middle', xshift=shift, showarrow=False,
        font=dict(family=FONT, size=size, color=color)))

fig.update_layout(
    width=PAGE_W,
    height=PAGE_H,
    margin=dict(l=M_L, r=M_R, t=M_T, b=M_B, pad=0),
    paper_bgcolor='white',
    plot_bgcolor='white',
    font=dict(family=FONT, color='black'),
    barmode='overlay',
    xaxis=map_x,
    yaxis=map_y,
    xaxis2=date_axis((-0.604, 12.69), COL1, 'y2'),
    yaxis2=value_axis(ROW2, 'x2', [0, 76.1], 'Wind speed (m s<sup>−1</sup>)', standoff=10, tickvals=[0,10,20,30,40,50,60,70]),
    xaxis3=date_axis((0.04, 12.64), COL2, 'y3', ticks=date_ticks[1:], labels=date_labels[1:]),
    yaxis3=value_axis(ROW2, 'x3', [-90, 90], 'Latitude (deg)', tickvals=lat_ticks),
    xaxis4=date_axis((-0.604, 12.69), COL1, 'y4', 'UTC date'),
    yaxis4=value_axis(ROW3, 'x4', [7697, 14457], 'Altitude (m AMSL)', tickvals=[8000,9000,10000,11000,12000,13000,14000], tickformat='d'),
    xaxis5=value_axis(COL2, 'y5', [-100, 100], 'Wind speed (m s<sup>−1</sup>)', standoff=11, tickvals=[-100,-75,-50,-25,0,25,50,75,100]),
    yaxis5=value_axis(ROW3, 'x5', [0, 150.15], 'Frequency', tickvals=[0,20,40,60,80,100,120,140]),
    legend=dict(legend_box, x=px_x(89.5), y=px_y(339), xanchor='left', yanchor='bottom'),
    legend2=dict(legend_box, x=px_x(782.5), y=px_y(421), xanchor='right', yanchor='top'),
    legend3=dict(legend_box, x=px_x(1559), y=px_y(810), xanchor='right', yanchor='top'),
    annotations=annotations,
)

# ocean colour behind the land, map grid drawn over it
fig.add_shape(type='rect', xref='x domain', yref='y domain', x0=0, x1=1, y0=0, y1=1,
              fillcolor='#d4e6f1', line=dict(width=0), layer='below')
for lon in lon_ticks[1:-1]:
    fig.add_shape(type='line', xref='x', yref='y domain', x0=lon, x1=lon, y0=0, y1=1,
                  line=dict(color='rgba(128,128,128,0.17)', width=0.8, dash='dot'), layer='above')
for lat in lat_ticks[1:-1]:
    fig.add_shape(type='line', xref='x domain', yref='y', x0=0, x1=1, y0=lat, y1=lat,
                  line=dict(color='rgba(128,128,128,0.17)', width=0.8, dash='dot'), layer='above')

fig.write_html('out.html', config={'displayModeBar': False},
               post_script="document.body.style.margin='0';")
